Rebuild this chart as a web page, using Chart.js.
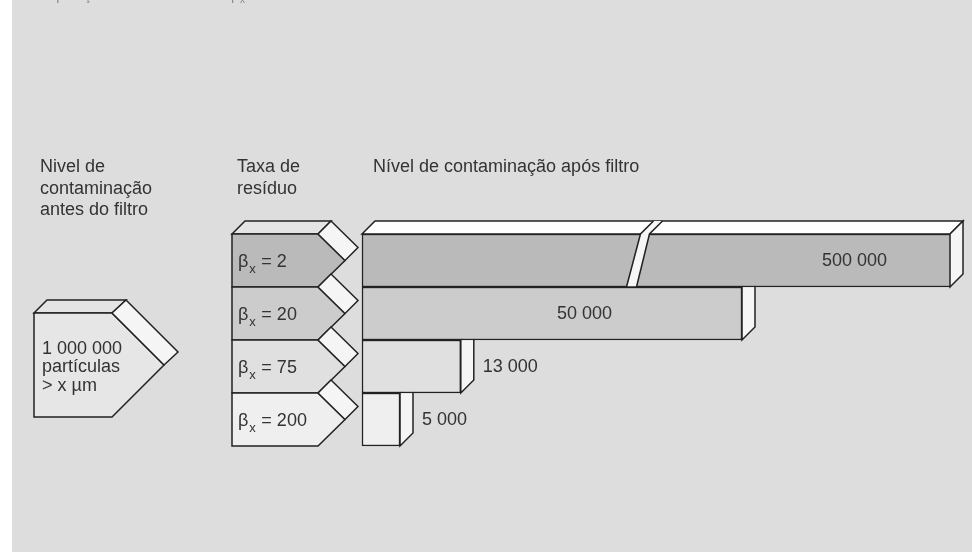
<!DOCTYPE html>
<html>
<head>
<meta charset="utf-8">
<script src="https://cdn.jsdelivr.net/npm/chart.js@4.4.0/dist/chart.umd.min.js"></script>
<style>
  html, body { margin: 0; padding: 0; background: #fff; }
</style>
</head>
<body>
<canvas id="myChart" width="972" height="552"></canvas>
<script>
// beta_x values (rows) and the particle count left after the filter
var betaValues = ['2', '20', '75', '200'];
var afterFilter = [500000, 50000, 13000, 5000];
var afterLabels = ['500 000', '50 000', '13 000', '5 000'];
var inputLines = ['1 000 000', 'partículas', '> x µm'];
var rowColors = ['#bababa', '#cccccc', '#e0e0e0', '#efefef'];

var FONT = "18px 'Liberation Sans', Arial, sans-serif";
var INK = '#333';
var D = 13;          // depth of the 3d faces
var BREAK_AT = 34800; // where the long bar is cut

function poly(ctx, pts, fill, noStroke) {
  ctx.beginPath();
  ctx.moveTo(pts[0][0], pts[0][1]);
  for (var i = 1; i < pts.length; i++) ctx.lineTo(pts[i][0], pts[i][1]);
  ctx.closePath();
  if (fill) { ctx.fillStyle = fill; ctx.fill(); }
  if (!noStroke) {
    ctx.lineWidth = 1.5; ctx.strokeStyle = '#222'; ctx.lineJoin = 'miter';
    ctx.stroke();
  }
}

function rowBox(chart, i) {
  var a = chart.chartArea;
  var h = (a.bottom - a.top) / betaValues.length;
  var c = chart.scales.y.getPixelForValue(i);
  return {top: c - h / 2, bottom: c + h / 2, mid: c};
}

function barEnd(chart, i) {
  var bar = chart.getDatasetMeta(0).data[i];
  return Math.min(bar.x, chart.chartArea.right);
}

var decor = {
  id: 'decor',
  beforeDraw: function (chart) {
    var ctx = chart.ctx;
    ctx.save();
    ctx.fillStyle = '#fff';
    ctx.fillRect(0, 0, chart.width, chart.height);
    ctx.fillStyle = '#dddddd';
    ctx.fillRect(12, 0, chart.width - 12, chart.height);

    // title, cut off by the top edge
    ctx.fillStyle = '#8c8c8c';
    ctx.font = "14px 'Liberation Sans', Arial, sans-serif";
    ctx.textBaseline = 'alphabetic';
    ctx.textAlign = 'right';
    ctx.fillText('Separação do filtro com a taxa', 229, 0);
    ctx.textAlign = 'left';
    ctx.fillText('β', 231, 0);
    ctx.font = "10px 'Liberation Sans', Arial, sans-serif";
    ctx.fillText('x', 240, 3);
    ctx.restore();
  },
  beforeDatasetsDraw: function (chart) {
    var ctx = chart.ctx, a = chart.chartArea;
    ctx.save();
    for (var i = 1; i < afterFilter.length; i++) {
      var r = rowBox(chart, i), e = barEnd(chart, i);
      poly(ctx, [[e, r.top], [e + D, r.top - D], [e + D, r.bottom - D], [e, r.bottom]], '#f5f5f5');
    }
    // top face of the first bar
    var r0 = rowBox(chart, 0), e0 = barEnd(chart, 0);
    poly(ctx, [[a.left, r0.top], [a.left + D, r0.top - D], [e0 + D, r0.top - D], [e0, r0.top]], '#ffffff');
    ctx.restore();
  },
  afterDatasetsDraw: function (chart) {
    var ctx = chart.ctx, a = chart.chartArea;
    ctx.save();
    var r0 = rowBox(chart, 0), e0 = barEnd(chart, 0);
    // right face of the first bar
    poly(ctx, [[e0, r0.top], [e0 + D, r0.top - D], [e0 + D, r0.bottom - D], [e0, r0.bottom]], '#f5f5f5');

    // axis break in the first bar
    if (afterFilter[0] > chart.scales.x.max) {
      var b = chart.scales.x.getPixelForValue(BREAK_AT);
      var L = [[b, r0.bottom], [b + 14, r0.top], [b + 14 + D, r0.top - D]];
      var R = [[b + 10, r0.bottom], [b + 23, r0.top], [b + 22 + D + 1, r0.top - D]];
      poly(ctx, [L[0], L[1], L[2], R[2], R[1], R[0]], '#f6f6f6', true);
      ctx.lineWidth = 1.5; ctx.strokeStyle = '#222';
      [L, R].forEach(function (p) {
        ctx.beginPath(); ctx.moveTo(p[0][0], p[0][1]);
        ctx.lineTo(p[1][0], p[1][1]); ctx.lineTo(p[2][0], p[2][1]); ctx.stroke();
      });
      ctx.beginPath(); ctx.moveTo(b, r0.bottom); ctx.lineTo(b + 10, r0.bottom); ctx.stroke();
    }

    // value labels
    ctx.font = FONT; ctx.fillStyle = INK; ctx.textBaseline = 'middle';
    var insideRight = {0: 63, 1: 130};
    for (var i = 0; i < afterFilter.length; i++) {
      var r = rowBox(chart, i), e = barEnd(chart, i);
      if (insideRight[i] !== undefined) {
        ctx.textAlign = 'right';
        ctx.fillText(afterLabels[i], e - insideRight[i], r.mid + 1);
      } else {
        ctx.textAlign = 'left';
        ctx.fillText(afterLabels[i], e + D + 9, r.mid + 1);
      }
    }

    // beta column (arrow shapes)
    var L0 = a.left - 130, B0 = a.left - 44, P0 = a.left - 17;
    poly(ctx, [[L0, r0.top], [L0 + D, r0.top - D], [B0 + D, r0.top - D], [B0, r0.top]], '#e4e4e4');
    for (var k = 0; k < betaValues.length; k++) {
      var rk = rowBox(chart, k);
      poly(ctx, [[L0, rk.top], [B0, rk.top], [P0, rk.mid], [B0, rk.bottom], [L0, rk.bottom]], rowColors[k]);
      poly(ctx, [[B0, rk.top], [B0 + D, rk.top - D], [P0 + D, rk.mid - D], [P0, rk.mid]], '#f5f5f5');
      ctx.fillStyle = INK; ctx.textAlign = 'left'; ctx.textBaseline = 'alphabetic';
      ctx.font = FONT;
      ctx.fillText('β', L0 + 6, rk.mid + 6);
      var bw = ctx.measureText('β').width;
      ctx.font = "13px 'Liberation Sans', Arial, sans-serif";
      ctx.fillText('x', L0 + 6 + bw + 1, rk.mid + 12);
      ctx.font = FONT;
      ctx.fillText(' = ' + betaValues[k], L0 + 6 + bw + 8, rk.mid + 6);
    }

    // input block on the left
    var top = 313, bot = 417, lx = 34, rx = 112, px = 164, my = (top + bot) / 2;
    poly(ctx, [[lx, top], [lx + D, top - D], [rx + D + 1, top - D], [rx, top]], '#e4e4e4');
    poly(ctx, [[lx, top], [rx, top], [px, my], [rx, bot], [lx, bot]], '#e6e6e6');
    poly(ctx, [[rx, top], [rx + D + 1, top - D], [px + D + 1, my - D], [px, my]], '#f5f5f5');
    ctx.fillStyle = INK; ctx.font = FONT; ctx.textAlign = 'left'; ctx.textBaseline = 'alphabetic';
    inputLines.forEach(function (t, j) { ctx.fillText(t, 42, 354 + j * 18.3); });

    // headings
    ['Nivel de', 'contaminação', 'antes do filtro'].forEach(function (t, j) { ctx.fillText(t, 40, 172 + j * 21.5); });
    ['Taxa de', 'resíduo'].forEach(function (t, j) { ctx.fillText(t, 237, 172 + j * 21.5); });
    ctx.fillText('Nível de contaminação após filtro', 373, 172);
    ctx.restore();
  }
};

var ctx = document.getElementById('myChart').getContext('2d');
var chart = new Chart(ctx, {
  type: 'bar',
  data: {
    labels: betaValues,
    datasets: [{
      label: 'Nível de contaminação após filtro',
      data: afterFilter,
      backgroundColor: rowColors,
      borderColor: '#222',
      borderWidth: 1.5,
      borderSkipped: false,
      barPercentage: 1,
      categoryPercentage: 1,
      clip: {left: false, top: false, right: 0, bottom: false}
    }]
  },
  options: {
    indexAxis: 'y',
    responsive: false,
    animation: false,
    layout: {padding: {left: 362, right: 22, top: 234, bottom: 106}},
    scales: {
      x: {display: false, min: 0, max: 77370},
      y: {display: false}
    },
    plugins: {legend: {display: false}, tooltip: {enabled: false}}
  },
  plugins: [decor]
});
</script>
</body>
</html>
